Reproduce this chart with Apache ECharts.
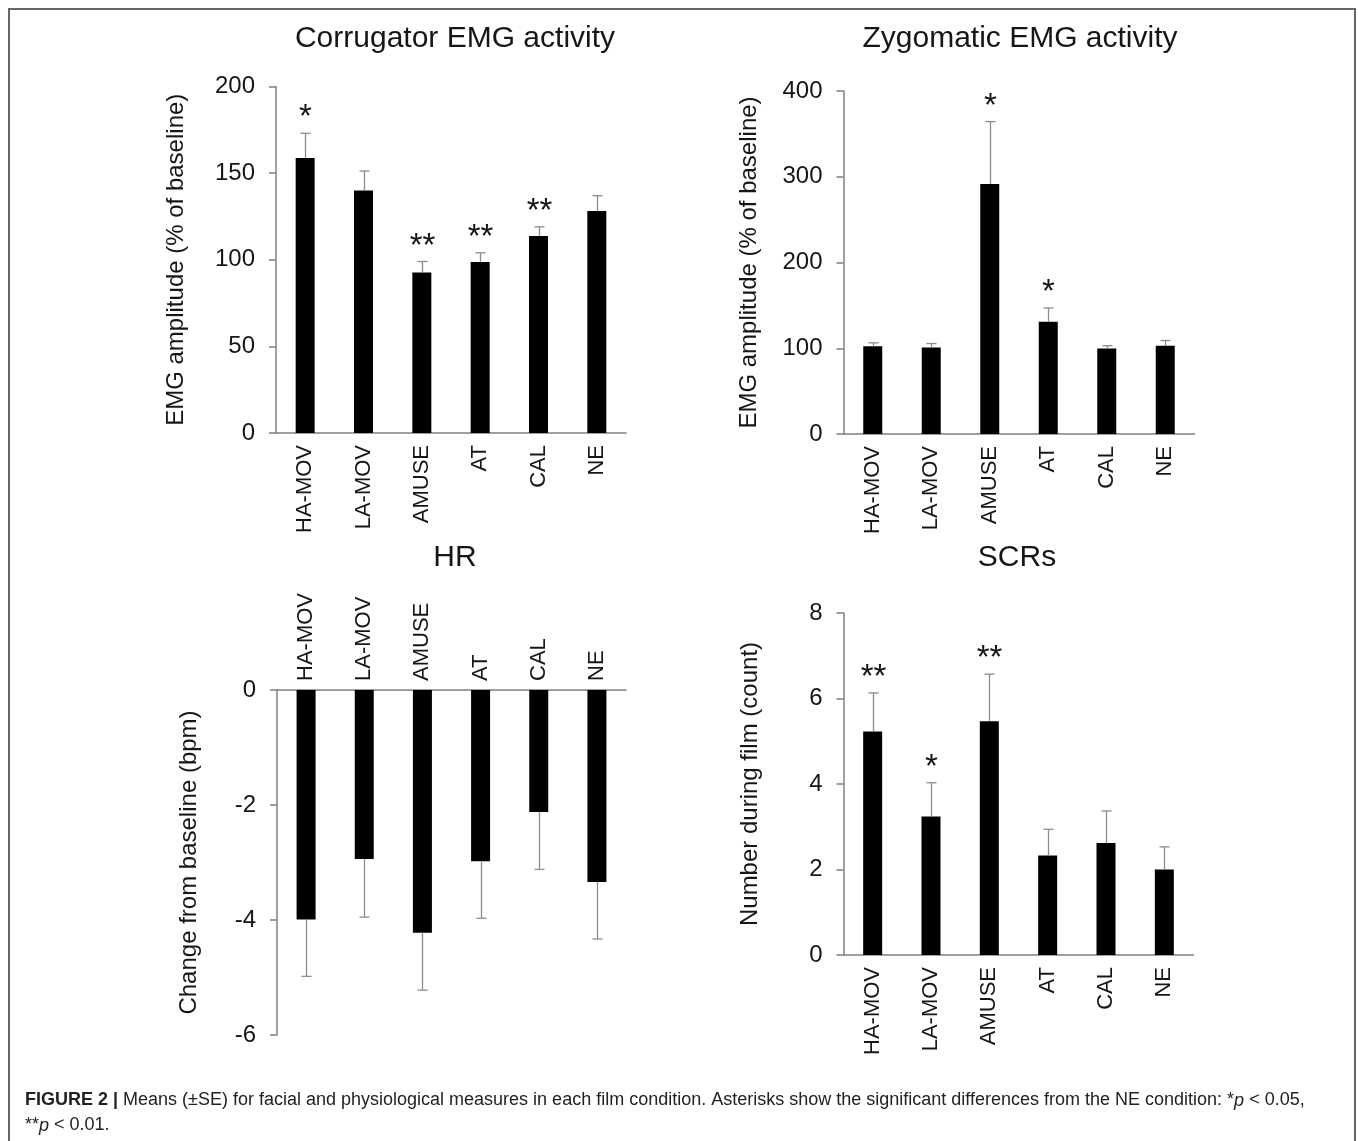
<!DOCTYPE html>
<html>
<head>
<meta charset="utf-8">
<script src="https://cdn.jsdelivr.net/npm/echarts@6/dist/echarts.min.js"></script>
<style>
html,body{margin:0;padding:0;background:#fff;}
#chart{width:1358px;height:1141px;}
</style>
</head>
<body>
<div id="chart"></div>
<script>
// ---------- data ----------
const categories = ['HA-MOV', 'LA-MOV', 'AMUSE', 'AT', 'CAL', 'NE'];

const corrMean  = [158.8, 140.0, 92.7, 98.7, 113.7, 128.1];
const corrSE    = [14.2, 11.2, 6.3, 5.3, 5.3, 8.9];
const corrStars = ['*', '', '**', '**', '**', ''];

const zygMean  = [102.2, 101.0, 291.4, 131.0, 99.7, 103.0];
const zygSE    = [4.1, 4.5, 72.9, 16.0, 3.3, 6.0];
const zygStars = ['', '', '*', '*', '', ''];

const hrMean  = [-3.99, -2.94, -4.22, -2.98, -2.12, -3.34];
const hrSE    = [0.99, 1.01, 1.00, 0.99, 1.00, 0.99];
const hrStars = ['', '', '', '', '', ''];

const scrMean  = [5.23, 3.24, 5.47, 2.33, 2.62, 2.00];
const scrSE    = [0.90, 0.79, 1.10, 0.61, 0.75, 0.53];
const scrStars = ['**', '*', '**', '', '', ''];

const panelTitles = ['Corrugator EMG activity', 'Zygomatic EMG activity', 'HR', 'SCRs'];
const yNames = ['EMG amplitude (% of baseline)', 'EMG amplitude (% of baseline)',
                'Change from baseline (bpm)', 'Number during film (count)'];
const yMin = [0, 0, -6, 0];
const yMax = [200, 400, 0, 8];
const yInterval = [50, 100, 2, 2];

// ---------- styles ----------
const FONT = "'Liberation Sans', Arial, Helvetica, sans-serif";
const TXT = '#161616';
const AXIS = '#808080';
const ERR = '#8c8c8c';

const grids = [
  {left: 276, top: 86.5, width: 350, height: 346.5},
  {left: 843.5, top: 91, width: 351, height: 343},
  {left: 277, top: 690, width: 349, height: 345},
  {left: 843.5, top: 613, width: 350, height: 342}
];
const nameGaps = [88, 82, 76, 81];

const means = [corrMean, zygMean, hrMean, scrMean];
const ses = [corrSE, zygSE, hrSE, scrSE];
const stars = [corrStars, zygStars, hrStars, scrStars];

function errRender(starArr) {
  return function (params, api) {
    const i = api.value(0), m = api.value(1), se = api.value(2);
    const dir = m >= 0 ? 1 : -1;
    const p0 = api.coord([i, m]);
    const p1 = api.coord([i, m + dir * se]);
    const x = Math.round(p0[0]) + 0.5;
    const children = [
      {type: 'line', shape: {x1: x, y1: p0[1], x2: x, y2: p1[1]},
       style: {stroke: ERR, lineWidth: 1.3}},
      {type: 'line', shape: {x1: x - 5, y1: p1[1], x2: x + 5, y2: p1[1]},
       style: {stroke: ERR, lineWidth: 1.3}}
    ];
    const s = starArr[params.dataIndex];
    if (s) {
      children.push({type: 'text', x: x, y: p1[1] - 15,
        style: {text: s, fill: TXT, font: '33px ' + FONT, align: 'center', verticalAlign: 'middle'}});
    }
    return {type: 'group', children: children};
  };
}

const xAxes = [], yAxes = [], series = [];
for (let k = 0; k < 4; k++) {
  const isHR = k === 2;
  xAxes.push({
    gridIndex: k, type: 'category', data: categories,
    position: isHR ? 'top' : 'bottom',
    axisLine: {onZero: false, lineStyle: {color: AXIS, width: 1.5}},
    axisTick: {show: false},
    axisLabel: {rotate: isHR ? -90 : 90, interval: 0, fontSize: 22, fontFamily: FONT, color: TXT, margin: isHR ? 9 : 12},
    splitLine: {show: false}
  });
  yAxes.push({
    gridIndex: k, type: 'value', min: yMin[k], max: yMax[k], interval: yInterval[k],
    name: yNames[k], nameLocation: 'middle', nameGap: nameGaps[k],
    nameTextStyle: {fontSize: 24, fontFamily: FONT, color: TXT},
    axisLine: {show: true, lineStyle: {color: AXIS, width: 1.5}},
    axisTick: {show: true, length: 7, lineStyle: {color: AXIS, width: 1.5}},
    axisLabel: {fontSize: 24, fontFamily: FONT, color: TXT, margin: 21},
    splitLine: {show: false}
  });
  series.push({
    type: 'bar', xAxisIndex: k, yAxisIndex: k, data: means[k], barWidth: 19,
    itemStyle: {color: '#000'}, silent: true, animation: false
  });
  series.push({
    type: 'custom', xAxisIndex: k, yAxisIndex: k,
    data: categories.map((c, i) => [i, means[k][i], ses[k][i]]),
    renderItem: errRender(stars[k]), z: 3, silent: true, animation: false
  });
}

const titlePos = [[455, 39], [1020, 39], [455, 558], [1017, 558]];
const graphics = [
  {type: 'rect', shape: {x: 9, y: 9, width: 1346, height: 1200},
   style: {fill: 'none', stroke: '#666', lineWidth: 2}, silent: true}
];
panelTitles.forEach((t, i) => {
  graphics.push({type: 'text', x: titlePos[i][0], y: titlePos[i][1],
    style: {text: t, fill: TXT, font: '30px ' + FONT, align: 'center', verticalAlign: 'middle'}});
});
graphics.push({
  type: 'text', x: 25, y: 1088,
  style: {
    text: '{b|FIGURE 2 | }{n|Means (\u00B1SE) for facial and physiological measures in each film condition. Asterisks show the significant differences from the NE condition: *}{i|p}{n| < 0.05,}\n{n|**}{i|p}{n| < 0.01.}',
    verticalAlign: 'top',
    rich: {
      b: {fontSize: 18, fontWeight: 'bold', fontFamily: FONT, fill: '#222', lineHeight: 25},
      n: {fontSize: 18, fontFamily: FONT, fill: '#222', lineHeight: 25},
      i: {fontSize: 18, fontStyle: 'italic', fontFamily: FONT, fill: '#222', lineHeight: 25}
    }
  }
});

const chart = echarts.init(document.getElementById('chart'), null, {renderer: 'canvas'});
chart.setOption({
  animation: false,
  backgroundColor: '#fff',
  grid: grids,
  xAxis: xAxes,
  yAxis: yAxes,
  series: series,
  graphic: graphics
});
</script>
</body>
</html>
